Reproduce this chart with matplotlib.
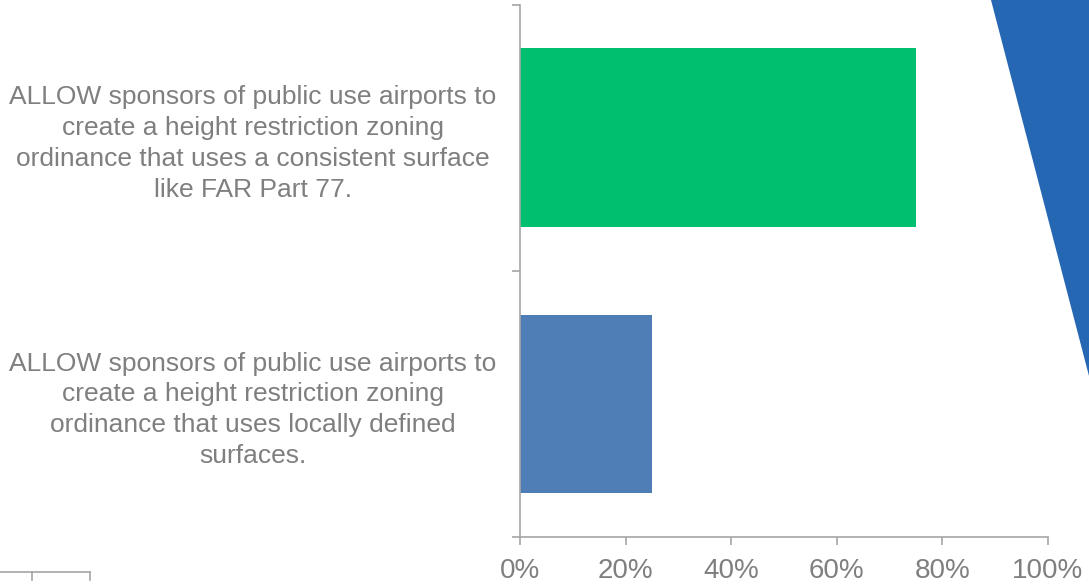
import matplotlib
matplotlib.use("Agg")
import matplotlib.pyplot as plt
from matplotlib.patches import Polygon
from matplotlib.lines import Line2D
from matplotlib.ticker import PercentFormatter

plt.rcParams['font.family'] = ['Liberation Sans', 'DejaVu Sans']

categories = [
    "ALLOW sponsors of public use airports to\ncreate a height restriction zoning\nordinance that uses locally defined\nsurfaces.",
    "ALLOW sponsors of public use airports to\ncreate a height restriction zoning\nordinance that uses a consistent surface\nlike FAR Part 77.",
]
values = [25, 75]
bar_colors = ["#4f7db6", "#00bf6f"]
xticks = [0, 20, 40, 60, 80, 100]

text_gray = "#7f7f7f"
axis_gray = "#a6a6a6"

fig = plt.figure(figsize=(10.89, 5.88), dpi=100)
W, H = 1089, 588
ax = fig.add_axes([520 / W, 1 - 537 / H, (1048 - 520) / W, (537 - 4.5) / H])

pos = list(range(len(categories)))
ax.barh(pos, values, height=0.67, color=bar_colors)

ax.set_xlim(0, 100)
ax.set_ylim(-0.5, len(categories) - 0.5)
ax.set_xticks(xticks)
ax.xaxis.set_major_formatter(PercentFormatter(decimals=0))

ax.set_yticks(pos)
ax.set_yticklabels(categories, fontsize=19, color=text_gray,
                   multialignment="center", linespacing=1.36)
ax.set_yticks([p - 0.5 for p in pos] + [pos[-1] + 0.5], minor=True)
ax.tick_params(axis="y", which="major", length=0, pad=17)
ax.tick_params(axis="y", which="minor", length=6, width=1.2, color=axis_gray, direction="out")
ax.tick_params(axis="x", length=6, width=1.2, color=axis_gray, labelsize=20,
               labelcolor=text_gray, pad=9)

for s in ["top", "right"]:
    ax.spines[s].set_visible(False)
for s in ["left", "bottom"]:
    ax.spines[s].set_color(axis_gray)
    ax.spines[s].set_linewidth(1.2)

# decorative blue wedge at top right
fig.patches.append(Polygon([(991 / W, 1), (1, 1), (1, 1 - 376 / H)],
                           closed=True, transform=fig.transFigure,
                           facecolor="#2567b3", edgecolor="none"))

# leftover axis fragment at bottom left
y0 = 1 - 572 / H
y1 = 1 - 580 / H
fig.add_artist(Line2D([0, 90 / W], [y0, y0], color=axis_gray, lw=1.2, transform=fig.transFigure))
for xp in [32, 90]:
    fig.add_artist(Line2D([xp / W, xp / W], [y0, y1], color=axis_gray, lw=1.2, transform=fig.transFigure))

fig.savefig("out.png", dpi=100)
